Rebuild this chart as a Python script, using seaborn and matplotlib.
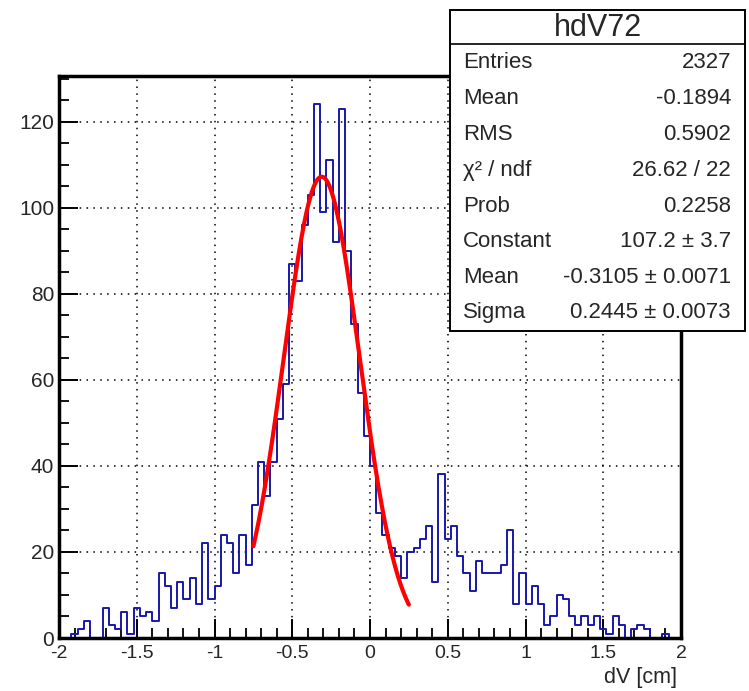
import numpy as np
import pandas as pd
import matplotlib
matplotlib.use("Agg")
import matplotlib.pyplot as plt
from matplotlib.patches import Rectangle
from matplotlib.lines import Line2D
from matplotlib.ticker import MultipleLocator
import seaborn as sns

# ---------------- data ----------------
x_min, x_max, n_bins = -2.0, 2.0, 100
counts = [
    0, 0, 1, 2, 4, 0, 0, 7, 3, 2,
    6, 1, 7, 5, 6, 4, 15, 12, 7, 13,
    9, 14, 8, 22, 9, 12, 24, 22, 15, 24,
    17, 31, 41, 33, 41, 51, 59, 87, 83, 96,
    103, 124, 99, 111, 92, 123, 90, 73, 57, 47,
    40, 29, 24, 21, 19, 14, 20, 21, 23, 26,
    13, 38, 23, 26, 19, 15, 11, 18, 15, 15,
    15, 17, 25, 8, 15, 8, 12, 8, 3, 5,
    10, 9, 5, 3, 5, 3, 5, 2, 1, 5,
    3, 0, 2, 3, 2, 0, 0, 1, 0, 0,
]
fit_constant, fit_mean, fit_sigma = 107.2, -0.3105, 0.2445
fit_range = (-0.75, 0.25)

x_ticks = [-2, -1.5, -1, -0.5, 0, 0.5, 1, 1.5, 2]
x_tick_labels = ["-2", "-1.5", "-1", "-0.5", "0", "0.5", "1", "1.5", "2"]
y_ticks = [0, 20, 40, 60, 80, 100, 120]
y_tick_labels = ["0", "20", "40", "60", "80", "100", "120"]

stats_title = "hdV72"
stats_labels = ["Entries", "Mean", "RMS", "χ² / ndf", "Prob", "Constant", "Mean", "Sigma"]
stats_values = ["2327", "-0.1894", "0.5902", "26.62 / 22", "0.2258",
                "107.2 ± 3.7", "-0.3105 ± 0.0071", "0.2445 ± 0.0073"]
x_label = "dV [cm]"

# ---------------- style ----------------
sns.set_style("white")
plt.rcParams["font.family"] = ["Liberation Sans", "DejaVu Sans"]

W, H = 749, 691
fig = plt.figure(figsize=(W / 100, H / 100), dpi=100)
fig.patch.set_facecolor("white")

ax_l, ax_r, ax_t, ax_b = 59, 681, 76, 638
ax = fig.add_axes([ax_l / W, 1 - ax_b / H, (ax_r - ax_l) / W, (ax_b - ax_t) / H])

edges = np.linspace(x_min, x_max, n_bins + 1)
centers = 0.5 * (edges[:-1] + edges[1:])
hist_df = pd.DataFrame({"dV": centers, "count": counts})

sns.histplot(data=hist_df, x="dV", weights="count", bins=n_bins, binrange=(x_min, x_max),
             element="step", fill=False, color="#1818a8", linewidth=1.4, ax=ax)

xs = np.linspace(fit_range[0], fit_range[1], 300)
ys = fit_constant * np.exp(-0.5 * ((xs - fit_mean) / fit_sigma) ** 2)
fit_df = pd.DataFrame({"x": xs, "y": ys})
sns.lineplot(data=fit_df, x="x", y="y", color="red", linewidth=3.0, ax=ax)

ax.set_xlim(x_min, x_max)
ax.set_ylim(0, 130.6)
ax.set_xticks(x_ticks)
ax.set_xticklabels(x_tick_labels, fontsize=14)
ax.set_yticks(y_ticks)
ax.set_yticklabels(y_tick_labels, fontsize=15)
ax.xaxis.set_minor_locator(MultipleLocator(0.1))
ax.yaxis.set_minor_locator(MultipleLocator(5))
ax.tick_params(which="major", direction="in", length=14, width=1.4, color="black",
               top=False, right=False, bottom=True, left=True)
ax.tick_params(axis="x", which="major", pad=5)
ax.tick_params(axis="y", which="major", pad=3.5)
ax.tick_params(which="minor", direction="in", length=7, width=1.3, color="black",
               top=False, right=False, bottom=True, left=True)
ax.set_ylabel("")
ax.set_xlabel(x_label, fontsize=15.5)
ax.xaxis.set_label_coords((677 - ax_l) / (ax_r - ax_l), (ax_b - 677) / (ax_b - ax_t))
ax.xaxis.label.set_horizontalalignment("right")
ax.xaxis.label.set_verticalalignment("center")

ax.grid(True, which="major", color="black", linestyle=(0, (1, 3.5)), linewidth=1.1)
ax.set_axisbelow(True)
for s in ax.spines.values():
    s.set_visible(True)
    s.set_color("black")
    s.set_linewidth(2.5)

# ---------------- stats box ----------------
bx0, bx1, by0, by1, bsep = 450, 745, 10, 331, 43.5
fig.patches.append(Rectangle((bx0 / W, 1 - by1 / H), (bx1 - bx0) / W, (by1 - by0) / H,
                             transform=fig.transFigure, facecolor="white",
                             edgecolor="black", linewidth=1.4, zorder=10))
fig.lines.append(Line2D([bx0 / W, bx1 / W], [1 - bsep / H, 1 - bsep / H],
                        transform=fig.transFigure, color="black", linewidth=1.2, zorder=11))
fig.text((bx0 + bx1) / 2 / W, 1 - 27.5 / H, stats_title, ha="center", va="center",
         fontsize=22, zorder=12)
row_y = [62.5, 99, 134.5, 170.5, 206, 241.5, 277, 312.5]
for lab, val, yy in zip(stats_labels, stats_values, row_y):
    fig.text(463 / W, 1 - yy / H, lab, ha="left", va="center", fontsize=16, zorder=12)
    fig.text(731 / W, 1 - yy / H, val, ha="right", va="center", fontsize=16, zorder=12)

fig.savefig("out.png", dpi=100)
